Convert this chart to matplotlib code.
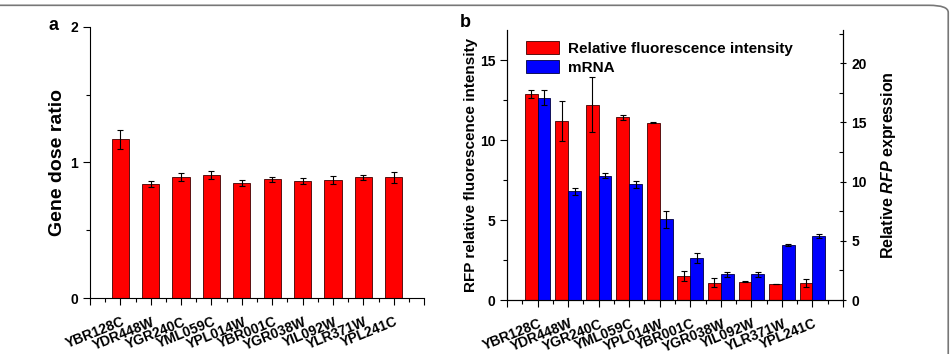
import matplotlib.pyplot as plt
import matplotlib.transforms as mtransforms
import numpy as np
from matplotlib.patches import FancyBboxPatch
from matplotlib.ticker import MultipleLocator, FixedLocator

plt.rcParams['font.family'] = ['Liberation Sans', 'DejaVu Sans']
plt.rcParams['font.weight'] = 'bold'
plt.rcParams['mathtext.fontset'] = 'custom'
plt.rcParams['mathtext.rm'] = 'Liberation Sans:bold'
plt.rcParams['mathtext.bfit'] = 'Liberation Sans:italic:bold'

genes = ['YBR128C', 'YDR448W', 'YGR240C', 'YML059C', 'YPL014W',
         'YBR001C', 'YGR038W', 'YIL092W', 'YLR371W', 'YPL241C']

dose = [1.17, 0.84, 0.89, 0.91, 0.85, 0.875, 0.865, 0.87, 0.89, 0.89]
dose_err = [0.07, 0.02, 0.03, 0.03, 0.02, 0.02, 0.02, 0.03, 0.02, 0.04]

fluor = [12.87, 11.2, 12.24, 11.43, 11.11, 1.52, 1.09, 1.15, 1.0, 1.09]
fluor_err = [0.25, 1.25, 1.75, 0.13, 0.05, 0.3, 0.3, 0.05, 0.0, 0.25]

mrna = [17.1, 9.2, 10.5, 9.77, 6.82, 3.55, 2.17, 2.17, 4.65, 5.41]
mrna_err = [0.6, 0.3, 0.2, 0.3, 0.7, 0.4, 0.2, 0.2, 0.05, 0.2]

fig = plt.figure(figsize=(9.53, 3.54), dpi=100)

# rounded border of the figure panel
border = FancyBboxPatch((-0.02, -0.2), 1.015, 1.185, boxstyle='round,pad=0,rounding_size=0.02',
                        transform=fig.transFigure, fill=False, ec='#777777', lw=1.2)
fig.patches.append(border)

x = np.arange(len(genes))
tick_fs = 10
err_kw = dict(ecolor='black', elinewidth=0.8, capsize=2.5, capthick=0.8)
shift = mtransforms.ScaledTranslation(1 / 100, 0, fig.dpi_scale_trans)


def style_x(ax):
    ax.set_xlim(-1, 10)
    ax.xaxis.set_major_locator(FixedLocator(list(range(-1, 11))))
    ax.set_xticklabels([''] + genes + [''], rotation=22, ha='right',
                       rotation_mode='anchor', fontsize=tick_fs, fontweight='bold')
    ax.xaxis.set_minor_locator(FixedLocator(list(np.arange(-0.5, 10, 1.0))))
    ax.tick_params(axis='x', which='major', length=5, width=0.8, pad=7)
    ax.tick_params(axis='x', which='minor', length=3, width=0.8)
    for lab in ax.get_xticklabels():
        lab.set_transform(lab.get_transform() + shift)


# panel a
ax1 = fig.add_axes([0.0944, 0.158, 0.3506, 0.766])
ax1.bar(x, dose, width=0.57, color='#ff0000', edgecolor='#400000', linewidth=0.6,
        yerr=dose_err, error_kw=err_kw)
ax1.set_ylim(0, 2)
ax1.yaxis.set_major_locator(MultipleLocator(1))
ax1.yaxis.set_minor_locator(MultipleLocator(0.5))
ax1.tick_params(axis='y', which='major', length=5, width=0.8, labelsize=tick_fs)
ax1.tick_params(axis='y', which='minor', length=3, width=0.8)
style_x(ax1)
for s in ['top', 'right']:
    ax1.spines[s].set_visible(False)
ax1.set_ylabel('Gene dose ratio', fontsize=14, fontweight='bold', labelpad=3)
fig.text(0.051, 0.915, 'a', fontsize=13, fontweight='bold')

# panel b
ax2 = fig.add_axes([0.532, 0.1525, 0.3526, 0.7625])
ax3 = ax2.twinx()
w = 0.42
b1 = ax2.bar(x - w / 2, fluor, width=w, color='#ff0000', edgecolor='#400000', linewidth=0.6,
             yerr=fluor_err, error_kw=err_kw, label='Relative fluorescence intensity')
b2 = ax3.bar(x + w / 2, mrna, width=w, color='#0000ff', edgecolor='#000040', linewidth=0.6,
             yerr=mrna_err, error_kw=err_kw, label='mRNA')
ax2.set_ylim(0, 16.9)
ax3.set_ylim(0, 22.8)
ax2.yaxis.set_major_locator(MultipleLocator(5))
ax2.yaxis.set_minor_locator(MultipleLocator(2.5))
ax3.yaxis.set_major_locator(MultipleLocator(5))
ax3.yaxis.set_minor_locator(MultipleLocator(2.5))
ax2.tick_params(axis='y', which='major', length=5, width=0.8, labelsize=tick_fs)
ax2.tick_params(axis='y', which='minor', length=3, width=0.8)
ax3.tick_params(axis='y', which='major', length=5, width=0.8, labelsize=tick_fs, direction='inout')
ax3.tick_params(axis='y', which='minor', length=3, width=0.8, direction='in')
style_x(ax2)
ax2.spines['top'].set_visible(False)
ax3.spines['top'].set_visible(False)
ax2.set_ylabel('RFP relative fluorescence intensity', fontsize=11, fontweight='bold', labelpad=1)
ax3.set_ylabel('Relative $\\bfit{RFP}$ expression', fontsize=11.5, fontweight='bold', labelpad=9)
fig.text(0.482, 0.925, 'b', fontsize=13, fontweight='bold')

ax2.legend([b1, b2], ['Relative fluorescence intensity', 'mRNA'], loc='upper left',
           bbox_to_anchor=(0.025, 1.0), frameon=False, fontsize=11, handlelength=2.15,
           handleheight=1.0, handletextpad=0.6, labelspacing=0.25, borderaxespad=0.3)

fig.savefig('out.png', dpi=100)
